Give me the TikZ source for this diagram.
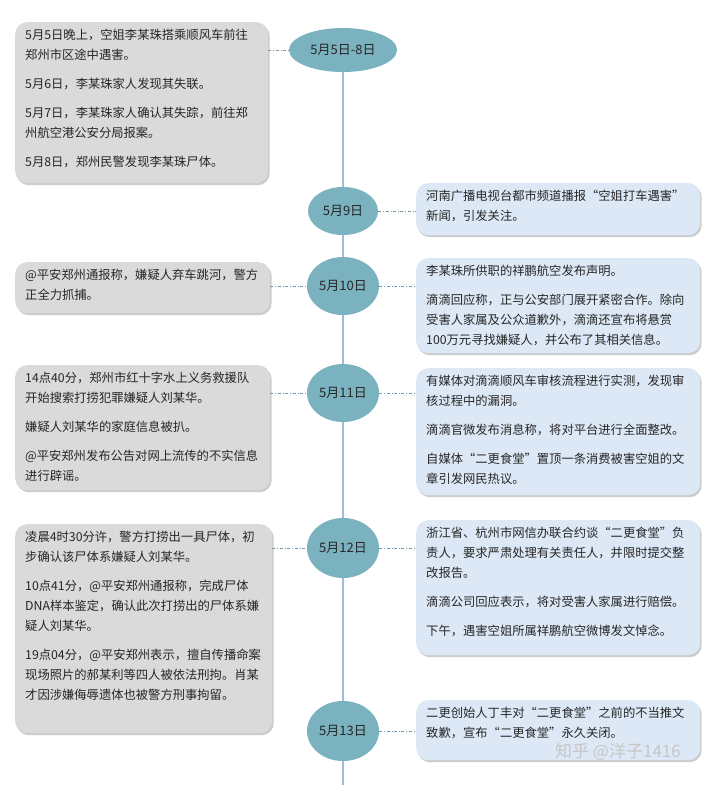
\documentclass[tikz,border=0pt]{standalone}
\usepackage{fontspec}
\setmainfont{Noto Sans CJK SC}
\XeTeXlinebreaklocale "zh"
\XeTeXlinebreakskip=0pt plus 1pt
\usetikzlibrary{shadows,shapes.geometric}
\definecolor{ell}{RGB}{122,178,192}
\definecolor{axis}{RGB}{160,188,220}
\definecolor{lbox}{RGB}{218,218,218}
\definecolor{rbox}{RGB}{220,232,246}
\definecolor{conn}{RGB}{120,150,170}
\newcommand{\bx}[3]{\parbox[t][#2][t]{#1}{\raggedright\parskip=9pt\parindent=0pt #3}}
\begin{document}
\begin{tikzpicture}[x=1pt,y=-1pt,
  datee/.style={ellipse,fill=ell,inner sep=0pt,font=\fontsize{13}{15}\selectfont,text=black!85},
  evbox/.style={rounded corners=12pt,drop shadow={opacity=0.4,shadow xshift=1.5pt,shadow yshift=-2pt},
     inner xsep=10pt,inner ysep=7pt,font=\fontsize{12.3}{20}\selectfont,text=black!85,anchor=north west},
  lb/.style={evbox,fill=lbox},
  rb/.style={evbox,fill=rbox},
  cn/.style={draw=conn,dash dot,line width=0.6pt}]
\useasboundingbox (0,0) rectangle (720,785);
\fill[white] (0,0) rectangle (720,785);
\coordinate (top) at (343,60);
\coordinate (bot) at (343,785);
\draw[axis,line width=2.5pt] (top) -- (bot);
\node[datee,minimum width=108pt,minimum height=44pt] (d1) at (343,50) {5月5日-8日};
\node[datee,minimum width=70pt,minimum height=48pt] (d2) at (343,211) {5月9日};
\node[datee,minimum width=72pt,minimum height=58pt] (d3) at (343,286) {5月10日};
\node[datee,minimum width=72pt,minimum height=58pt] (d4) at (343,393) {5月11日};
\node[datee,minimum width=72pt,minimum height=60pt] (d5) at (343,548) {5月12日};
\node[datee,minimum width=72pt,minimum height=60pt] (d6) at (343,731) {5月13日};

\node[lb] (l1) at (15,22) {\bx{233pt}{147pt}{5月5日晚上，空姐李某珠搭乘顺风车前往郑州市区途中遇害。\par 5月6日，李某珠家人发现其失联。\par 5月7日，李某珠家人确认其失踪，前往郑州航空港公安分局报案。\par 5月8日，郑州民警发现李某珠尸体。}};
\node[rb] (r2) at (416,183) {\bx{264pt}{38pt}{河南广播电视台都市频道播报“空姐打车遇害”新闻，引发关注。}};
\node[lb] (l3) at (15,262) {\bx{235pt}{37pt}{@平安郑州通报称，嫌疑人弃车跳河，警方正全力抓捕。}};
\node[rb] (r3) at (416,258) {\bx{264pt}{81pt}{李某珠所供职的祥鹏航空发布声明。\par 滴滴回应称，正与公安部门展开紧密合作。除向受害人家属及公众道歉外，滴滴还宣布将悬赏100万元寻找嫌疑人，并公布了其相关信息。}};
\node[lb] (l4) at (15,365) {\bx{235pt}{111pt}{14点40分，郑州市红十字水上义务救援队开始搜索打捞犯罪嫌疑人刘某华。\par 嫌疑人刘某华的家庭信息被扒。\par @平安郑州发布公告对网上流传的不实信息进行辟谣。}};
\node[rb] (r4) at (416,368) {\bx{264pt}{113pt}{有媒体对滴滴顺风车审核流程进行实测，发现审核过程中的漏洞。\par 滴滴官微发布消息称，将对平台进行全面整改。\par 自媒体“二更食堂”置顶一条消费被害空姐的文章引发网民热议。}};
\node[lb] (l5) at (15,524) {\bx{237pt}{195pt}{凌晨4时30分许，警方打捞出一具尸体，初步确认该尸体系嫌疑人刘某华。\par 10点41分，@平安郑州通报称，完成尸体DNA样本鉴定，确认此次打捞出的尸体系嫌疑人刘某华。\par 19点04分，@平安郑州表示，擅自传播命案现场照片的郝某利等四人被依法刑拘。肖某才因涉嫌侮辱遗体也被警方刑事拘留。}};
\node[rb] (r5) at (416,520) {\bx{264pt}{121pt}{浙江省、杭州市网信办联合约谈“二更食堂”负责人，要求严肃处理有关责任人，并限时提交整改报告。\par 滴滴公司回应表示，将对受害人家属进行赔偿。\par 下午，遇害空姐所属祥鹏航空微博发文悼念。}};
\node[rb] (r6) at (416,700) {\bx{264pt}{46pt}{二更创始人丁丰对“二更食堂”之前的不当推文致歉，宣布“二更食堂”永久关闭。}};
\node[text=gray!45,font=\fontsize{17}{20}\selectfont] (wm) at (618,752) {知乎 @洋子1416};

\draw[cn] (l1.east |- d1) -- (d1);
\draw[cn] (d2) -- (r2.west |- d2);
\draw[cn] (l3.east |- d3) -- (d3);
\draw[cn] (d3) -- (r3.west |- d3);
\draw[cn] (l4.east |- d4) -- (d4);
\draw[cn] (d4) -- (r4.west |- d4);
\draw[cn] (l5.east |- d5) -- (d5);
\draw[cn] (d5) -- (r5.west |- d5);
\draw[cn] (d6) -- (r6.west |- d6);
\end{tikzpicture}
\end{document}
